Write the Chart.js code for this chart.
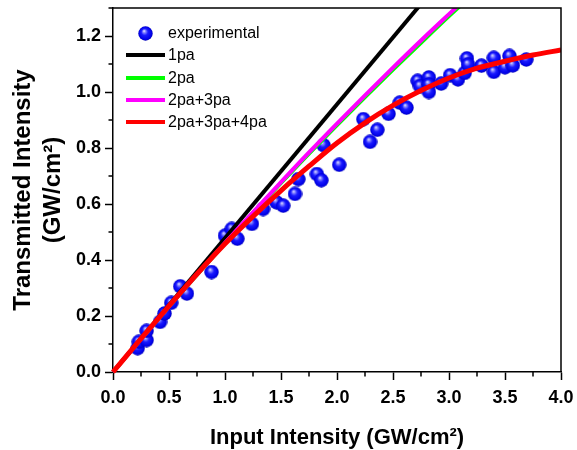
<!DOCTYPE html>
<html>
<head>
<meta charset="utf-8">
<script src="https://cdn.jsdelivr.net/npm/chart.js@4.4.1/dist/chart.umd.min.js"></script>
<style>
  body { margin: 0; background: #fff; }
  #wrap { position: relative; width: 577px; height: 450px; }
  #legend { position: absolute; left: 0; top: 0; font: 16px "Liberation Sans", Arial, sans-serif; color: #000; }
  .row { position: absolute; left: 126px; height: 22px; display: flex; align-items: center; white-space: nowrap; }
  .sw { width: 39px; height: 4px; margin-right: 3px; }
  .ball { width: 39px; display: flex; justify-content: center; margin-right: 3px; }
</style>
</head>
<body>
<div id="wrap">
  <canvas id="chart"></canvas>
  <div id="legend"></div>
</div>
<script>
// experimental points
const expX = [0.22, 0.23, 0.30, 0.30, 0.42, 0.46, 0.52, 0.60, 0.66, 0.88,
  1.00, 1.06, 1.11, 1.24, 1.34, 1.46, 1.52, 1.625, 1.655, 1.82,
  1.86, 1.88, 2.02, 2.235, 2.295, 2.36, 2.46, 2.56, 2.62, 2.72,
  2.74, 2.82, 2.82, 2.82, 2.93, 3.01, 3.08, 3.14, 3.16, 3.17,
  3.29, 3.40, 3.40, 3.50, 3.54, 3.57, 3.69];
const expY = [0.085, 0.108, 0.114, 0.147, 0.179, 0.209, 0.247, 0.306, 0.28, 0.357,
  0.487, 0.511, 0.476, 0.529, 0.582, 0.606, 0.594, 0.636, 0.689, 0.707,
  0.685, 0.81, 0.74, 0.903, 0.822, 0.865, 0.922, 0.962, 0.944, 1.04,
  1.021, 1.052, 1.027, 1.0, 1.03, 1.06, 1.045, 1.068, 1.12, 1.098,
  1.094, 1.122, 1.072, 1.088, 1.129, 1.095, 1.116];

// model curves
const pa1X = [0, 3.0];
const pa1Y = [0, 1.434];
const fitX = [0, 0.25, 0.5, 0.75, 1.0, 1.25, 1.5, 1.75, 2.0, 2.25, 2.5, 2.75, 3.0, 3.25];
const pa2Y = [0, 0.118, 0.234, 0.348, 0.459, 0.568, 0.675, 0.780, 0.882, 0.982, 1.080, 1.176, 1.271, 1.363];
const pa23Y = [0, 0.118, 0.235, 0.349, 0.461, 0.570, 0.678, 0.784, 0.887, 0.988, 1.087, 1.184, 1.278, 1.371];
const pa234X = [0, 0.25, 0.5, 0.75, 1.0, 1.25, 1.5, 1.75, 2.0, 2.25, 2.5, 2.75, 3.0, 3.25, 3.5, 3.75, 4.0];
const pa234Y = [0, 0.119, 0.236, 0.35, 0.458, 0.556, 0.648, 0.735, 0.818, 0.89, 0.952, 1.005, 1.05, 1.085, 1.11, 1.132, 1.15];

const xMajor = 0.5, yMajor = 0.2;

const pts = (xs, ys) => xs.map((x, i) => ({ x: x, y: ys[i] }));
const isMajor = (v, step) => Math.abs(v / step - Math.round(v / step)) < 1e-6;

// shaded ball marker
function makeBall(size) {
  const c = document.createElement("canvas");
  c.width = size; c.height = size;
  const g = c.getContext("2d");
  const r = size / 2;
  const grad = g.createRadialGradient(r * 0.8, r * 0.65, 0, r, r, r);
  grad.addColorStop(0, "#f4f4ff");
  grad.addColorStop(0.18, "#8c8cff");
  grad.addColorStop(0.45, "#1a1aff");
  grad.addColorStop(0.85, "#0000e6");
  grad.addColorStop(1, "#0000a8");
  g.fillStyle = grad;
  g.beginPath();
  g.arc(r, r, r - 0.3, 0, Math.PI * 2);
  g.fill();
  return c;
}
const ball = makeBall(15);

const font = "'Liberation Sans', Arial, sans-serif";

const minorTicks = {
  id: "minorTicks",
  afterDraw(chart) {
    const ctx = chart.ctx;
    const a = chart.chartArea;
    ctx.save();
    ctx.strokeStyle = "#000";
    ctx.lineWidth = 1.5;
    // minor ticks
    const xs = chart.scales.x, ys = chart.scales.y;
    xs.ticks.forEach((t, i) => {
      if (isMajor(t.value, xMajor)) return;
      const px = xs.getPixelForTick(i);
      ctx.beginPath(); ctx.moveTo(px, a.bottom); ctx.lineTo(px, a.bottom + 4.5); ctx.stroke();
    });
    ys.ticks.forEach((t, i) => {
      if (isMajor(t.value, yMajor)) return;
      const py = ys.getPixelForTick(i);
      ctx.beginPath(); ctx.moveTo(a.left, py); ctx.lineTo(a.left - 4.5, py); ctx.stroke();
    });
    // top and right frame
    ctx.beginPath();
    ctx.moveTo(a.left, a.top); ctx.lineTo(a.right, a.top); ctx.lineTo(a.right, a.bottom);
    ctx.stroke();
    ctx.restore();
  }
};

const lineDs = (label, data, color, width, order) => ({
  type: "line", label: label, data: data, borderColor: color, backgroundColor: color,
  borderWidth: width, pointRadius: 0, cubicInterpolationMode: "monotone", order: order,
  clip: { left: 6, bottom: 6, top: 0, right: 0 }
});

const chart = new Chart(document.getElementById("chart"), {
  type: "scatter",
  data: {
    datasets: [
      { label: "experimental", data: pts(expX, expY), pointStyle: ball, pointRadius: 7, order: 5 },
      lineDs("1pa", pts(pa1X, pa1Y), "#000000", 4, 4),
      lineDs("2pa", pts(fitX, pa2Y), "#00ff00", 4, 3),
      lineDs("2pa+3pa", pts(fitX, pa23Y), "#ff00ff", 4, 2),
      lineDs("2pa+3pa+4pa", pts(pa234X, pa234Y), "#ff0000", 5, 1)
    ]
  },
  plugins: [minorTicks],
  options: {
    responsive: true,
    maintainAspectRatio: false,
    animation: false,
    layout: { padding: { top: 7, right: 16, left: 0, bottom: 0 } },
    plugins: { legend: { display: false }, tooltip: { enabled: false } },
    scales: {
      x: {
        min: 0, max: 4,
        afterFit: s => { s.height = 78; s.paddingLeft = 0; s.paddingRight = 0; },
        border: { color: "#000", width: 1.5 },
        grid: { drawOnChartArea: false, tickLength: 8, tickWidth: 1.5,
          tickColor: c => (c.tick && isMajor(c.tick.value, xMajor)) ? "#000" : "rgba(0,0,0,0)" },
        ticks: { stepSize: 0.25, color: "#000", padding: 7, maxRotation: 0, autoSkip: false,
          font: { family: font, size: 18, weight: "bold" },
          callback: v => isMajor(v, xMajor) ? v.toFixed(1) : "" },
        title: { display: true, text: "Input Intensity (GW/cm²)", color: "#000",
          font: { family: font, size: 22, weight: "bold", lineHeight: 1.1 }, padding: 0 }
      },
      y: {
        min: 0, max: 1.3,
        afterFit: s => { s.width = 113; s.paddingTop = 0; s.paddingBottom = 0; },
        border: { color: "#000", width: 1.5 },
        grid: { drawOnChartArea: false, tickLength: 8, tickWidth: 1.5,
          tickColor: c => (c.tick && isMajor(c.tick.value, yMajor)) ? "#000" : "rgba(0,0,0,0)" },
        ticks: { stepSize: 0.1, color: "#000", padding: 4, autoSkip: false,
          font: { family: font, size: 18, weight: "bold" },
          callback: v => isMajor(v, yMajor) ? v.toFixed(1) : "" },
        title: { display: true, text: ["Transmitted Intensity", "(GW/cm²)"], color: "#000",
          font: { family: font, size: 24, weight: "bold", lineHeight: 1.25 }, padding: { top: 8, bottom: 0 } }
      }
    }
  }
});

// legend inside plot, top-left
const legend = document.getElementById("legend");
const rowY = [33, 55, 78, 100, 122];
chart.data.datasets.forEach((ds, i) => {
  const row = document.createElement("div");
  row.className = "row";
  row.style.top = (rowY[i] - 11) + "px";
  if (i === 0) {
    const b = document.createElement("div");
    b.className = "ball";
    b.appendChild(makeBall(15));
    row.appendChild(b);
  } else {
    const sw = document.createElement("div");
    sw.className = "sw";
    sw.style.background = ds.borderColor;
    row.appendChild(sw);
  }
  const t = document.createElement("span");
  t.textContent = ds.label;
  row.appendChild(t);
  legend.appendChild(row);
});
</script>
</body>
</html>
